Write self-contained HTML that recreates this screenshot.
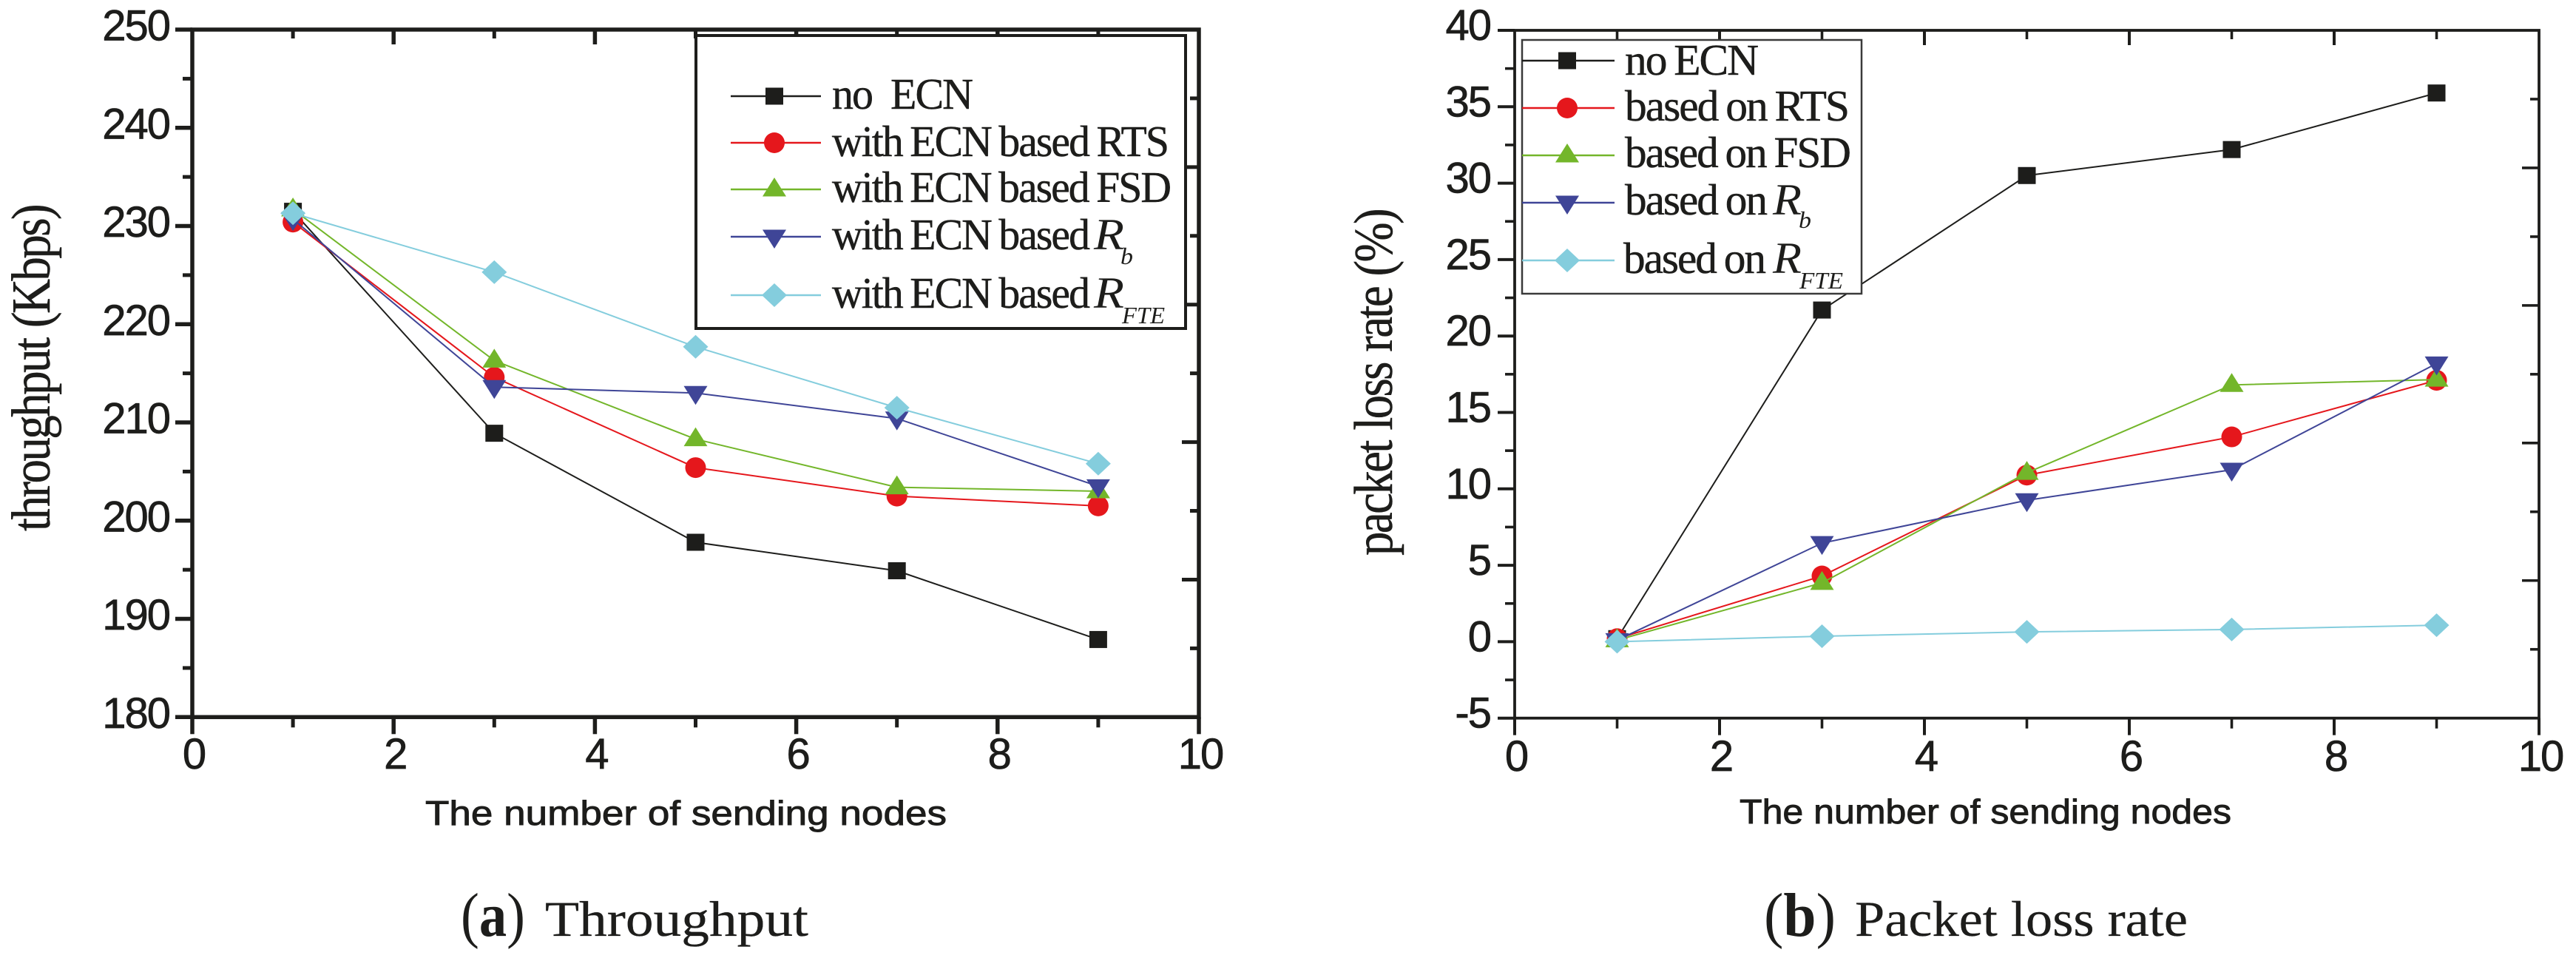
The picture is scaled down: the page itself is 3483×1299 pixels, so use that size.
<!DOCTYPE html>
<html lang="en">
<head>
<meta charset="utf-8">
<title>Throughput and packet loss rate charts</title>
<style>
html,body{margin:0;padding:0;background:#fff;}
body{width:3483px;height:1299px;overflow:hidden;}
svg{display:block;}
text{fill:#1d1d1b;}
.sans{font-family:"Liberation Sans",Arial,sans-serif;}
.serif{font-family:"Liberation Serif","Times New Roman",serif;}
.tick{font-size:58px;letter-spacing:-2px;stroke:#1d1d1b;stroke-width:.7px;}
.xt{font-size:46px;stroke:#1d1d1b;stroke-width:.9px;}
.yt{font-size:74px;letter-spacing:-3px;word-spacing:2px;stroke:#1d1d1b;stroke-width:.5px;}
.lg{font-size:59px;letter-spacing:-2px;word-spacing:-2px;white-space:pre;stroke:#1d1d1b;stroke-width:.5px;}
.lgp{word-spacing:0;}
.lgi{font-size:60px;font-style:italic;}
.sub{font-size:32px;font-style:italic;}
.capl{font-size:84px;}
.cap{font-size:68px;stroke:#1d1d1b;stroke-width:.3px;}
</style>
</head>
<body>
<svg id="figure" xmlns="http://www.w3.org/2000/svg" width="3483" height="1299" viewBox="0 0 3483 1299">
  <rect width="3483" height="1299" fill="#fff"/>
  <g id="panel-a"></g>
  <g id="panel-b"></g>

  <text class="sans xt" x="575" y="1115" textLength="705" lengthAdjust="spacingAndGlyphs">The number of sending nodes</text>
  <text class="serif yt" transform="translate(67,718) rotate(-90)" textLength="440" lengthAdjust="spacingAndGlyphs">throughput (Kbps)</text>
  <text class="sans xt" x="2352" y="1113" textLength="665" lengthAdjust="spacingAndGlyphs">The number of sending nodes</text>
  <text class="serif yt" transform="translate(1882,751) rotate(-90)" textLength="467" lengthAdjust="spacingAndGlyphs">packet loss rate (%)</text>

  <g id="legend-a">
    <rect x="941" y="48" width="662" height="396" fill="#fff" stroke="#1d1d1b" stroke-width="4"/>
    <text class="serif lg lgp" x="1125" y="147" textLength="189" lengthAdjust="spacingAndGlyphs">no  ECN</text>
    <text class="serif lg" x="1125" y="211" textLength="454" lengthAdjust="spacingAndGlyphs">with ECN based RTS</text>
    <text class="serif lg" x="1125" y="273" textLength="457" lengthAdjust="spacingAndGlyphs">with ECN based FSD</text>
    <text class="serif lg" x="1125" y="337" textLength="347" lengthAdjust="spacingAndGlyphs">with ECN based</text>
    <text class="serif lgi" x="1479" y="337" textLength="41" lengthAdjust="spacingAndGlyphs">R</text>
    <text class="serif sub" x="1515" y="357" textLength="17" lengthAdjust="spacingAndGlyphs">b</text>
    <text class="serif lg" x="1125" y="416" textLength="347" lengthAdjust="spacingAndGlyphs">with ECN based</text>
    <text class="serif lgi" x="1479" y="416" textLength="41" lengthAdjust="spacingAndGlyphs">R</text>
    <text class="serif sub" x="1517" y="437" textLength="58" lengthAdjust="spacingAndGlyphs">FTE</text>
  </g>

  <g id="legend-b">
    <rect x="2058" y="54" width="459" height="343" fill="#fff" stroke="#3a3a3a" stroke-width="2.5"/>
    <text class="serif lg" x="2197" y="101" textLength="179" lengthAdjust="spacingAndGlyphs">no ECN</text>
    <text class="serif lg" x="2197" y="163" textLength="302" lengthAdjust="spacingAndGlyphs">based on RTS</text>
    <text class="serif lg" x="2197" y="226" textLength="304" lengthAdjust="spacingAndGlyphs">based on FSD</text>
    <text class="serif lg" x="2197" y="290" textLength="191" lengthAdjust="spacingAndGlyphs">based on</text>
    <text class="serif lgi" x="2397" y="290" textLength="39" lengthAdjust="spacingAndGlyphs">R</text>
    <text class="serif sub" x="2432" y="308" textLength="17" lengthAdjust="spacingAndGlyphs">b</text>
    <text class="serif lg" x="2195" y="369" textLength="191" lengthAdjust="spacingAndGlyphs">based on</text>
    <text class="serif lgi" x="2397" y="369" textLength="39" lengthAdjust="spacingAndGlyphs">R</text>
    <text class="serif sub" x="2433" y="390" textLength="59" lengthAdjust="spacingAndGlyphs">FTE</text>
  </g>

  <text class="serif capl" x="623" y="1265" textLength="87" lengthAdjust="spacingAndGlyphs">(<tspan font-weight="bold">a</tspan>)</text>
  <text class="serif cap" x="737" y="1265" textLength="356" lengthAdjust="spacingAndGlyphs">Throughput</text>
  <text class="serif capl" x="2385" y="1265" textLength="97" lengthAdjust="spacingAndGlyphs">(<tspan font-weight="bold">b</tspan>)</text>
  <text class="serif cap" x="2508" y="1265" textLength="450" lengthAdjust="spacingAndGlyphs">Packet loss rate</text>
</svg>
<script>
// ---- shared categories ----
var sendingNodes = [1, 3, 5, 7, 9];
var xTickLabels = [0, 2, 4, 6, 8, 10];
var xMinorTicks = [1, 3, 5, 7, 9];

// ---- chart (a): throughput, Kbps ----
var throughputTickLabels = [180, 190, 200, 210, 220, 230, 240, 250];
var throughputMinorTicks = [185, 195, 205, 215, 225, 235, 245];
var throughputNoEcn = [231.5, 208.9, 197.8, 194.9, 187.9];
var throughputRts = [230.4, 214.6, 205.4, 202.5, 201.5];
var throughputFsd = [231.7, 216.3, 208.3, 203.4, 203.0];
var throughputRb = [230.7, 213.6, 213.0, 210.4, 203.5];
var throughputRfte = [231.3, 225.3, 217.7, 211.5, 205.8];

// ---- chart (b): packet loss rate, % ----
var lossTickLabels = [-5, 0, 5, 10, 15, 20, 25, 30, 35, 40];
var lossMinorTicks = [-2.5, 2.5, 7.5, 12.5, 17.5, 22.5, 27.5, 32.5, 37.5];
var lossNoEcn = [0.2, 21.7, 30.5, 32.2, 35.9];
var lossRts = [0.2, 4.3, 10.9, 13.4, 17.1];
var lossFsd = [0.1, 3.85, 11.05, 16.8, 17.15];
var lossRb = [0.1, 6.45, 9.25, 11.25, 18.2];
var lossRfte = [0.0, 0.36, 0.64, 0.8, 1.08];

var SVGNS = 'http://www.w3.org/2000/svg';
var INK = '#1d1d1b';
var seriesLook = [
  {key: 'no-ecn', color: '#1d1d1b', shape: 'square'},
  {key: 'rts', color: '#e5171c', shape: 'circle'},
  {key: 'fsd', color: '#73b62a', shape: 'up'},
  {key: 'rb', color: '#3f4597', shape: 'down'},
  {key: 'rfte', color: '#84cddd', shape: 'diamond'}
];

function mk(parent, tag, attrs) {
  var el = document.createElementNS(SVGNS, tag);
  for (var k in attrs) { el.setAttribute(k, attrs[k]); }
  parent.appendChild(el);
  return el;
}

function markerShape(parent, shape, x, y, color) {
  var el;
  if (shape === 'square') {
    el = mk(parent, 'rect', {x: x - 12, y: y - 11.5, width: 24, height: 23, fill: color});
  } else if (shape === 'circle') {
    el = mk(parent, 'ellipse', {cx: x, cy: y, rx: 14, ry: 14, fill: color});
  } else if (shape === 'up') {
    el = mk(parent, 'polygon', {points: (x - 16) + ',' + (y + 9.5) + ' ' + x + ',' + (y - 16) + ' ' + (x + 16) + ',' + (y + 9.5), fill: color});
  } else if (shape === 'down') {
    el = mk(parent, 'polygon', {points: (x - 16) + ',' + (y - 9.5) + ' ' + x + ',' + (y + 16) + ' ' + (x + 16) + ',' + (y - 9.5), fill: color});
  } else {
    el = mk(parent, 'polygon', {points: (x - 17) + ',' + y + ' ' + x + ',' + (y - 16) + ' ' + (x + 17) + ',' + y + ' ' + x + ',' + (y + 16), fill: color});
  }
  return el;
}

function drawAxes(g, p) {
  var xMajor = xTickLabels, xMinor = xMinorTicks;
  var frame = mk(g, 'rect', {x: p.left, y: p.top, width: p.right - p.left, height: p.bottom - p.top, fill: 'none', stroke: INK, 'stroke-width': p.axisWidth});
  
  

  xMajor.forEach(function (v) {
    var x = p.x(v);
    var t = mk(g, 'line', {x1: x, x2: x, y1: p.bottom, y2: p.bottom + 23, stroke: INK, 'stroke-width': p.majorWidth});
    
    
    if (v > 0 && v < 10) {
      var tt = mk(g, 'line', {x1: x, x2: x, y1: p.top, y2: p.top + 20, stroke: INK, 'stroke-width': p.majorWidth});
      
      
    }
    var lab = mk(g, 'text', {x: x + 2, y: p.xLabelY, 'text-anchor': 'middle', 'class': 'sans tick'});
    
    
    lab.textContent = v;
  });
  xMinor.forEach(function (v) {
    var x = p.x(v);
    var t = mk(g, 'line', {x1: x, x2: x, y1: p.bottom, y2: p.bottom + 14, stroke: INK, 'stroke-width': p.minorWidth});
    
    
    var tt = mk(g, 'line', {x1: x, x2: x, y1: p.top, y2: p.top + 12, stroke: INK, 'stroke-width': p.minorWidth});
    
    
  });
  p.yMajor.forEach(function (v) {
    var y = p.y(v);
    var t = mk(g, 'line', {x1: p.left - 23, x2: p.left, y1: y, y2: y, stroke: INK, 'stroke-width': p.majorWidth});
    
    
    var lab = mk(g, 'text', {x: p.left - p.yLabelGap, y: y + p.yLabelDrop, 'text-anchor': 'end', 'class': 'sans tick'});
    
    
    lab.textContent = v;
  });
  p.yMinor.forEach(function (v) {
    var y = p.y(v);
    var t = mk(g, 'line', {x1: p.left - 13, x2: p.left, y1: y, y2: y, stroke: INK, 'stroke-width': p.minorWidth});
    
    
  });
  // right-hand axis carries its own ten divisions, alternating long and short
  for (var i = 1; i < 10; i++) {
    var ry = p.top + (p.bottom - p.top) * i / 10;
    var len = i % 2 === 0 ? 23 : 12;
    var r = mk(g, 'line', {x1: p.right - len, x2: p.right, y1: ry, y2: ry, stroke: INK, 'stroke-width': p.minorWidth});
    
    
  }
}

function drawSeries(g, p, seriesValues) {
  seriesValues.forEach(function (vals, si) {
    var look = seriesLook[si];
    var sg = mk(g, 'g', {});
    
    
    var pts = vals.map(function (v, i) { return p.x(sendingNodes[i]) + ',' + p.y(v); }).join(' ');
    var line = mk(sg, 'polyline', {points: pts, fill: 'none', stroke: look.color, 'stroke-width': 2});
    
    
    vals.forEach(function (v, i) {
      var m = markerShape(sg, look.shape, p.x(sendingNodes[i]), p.y(v), look.color);
      
      
    });
  });
}

function drawLegendKeys(g, left, right, keyX, rowYs) {
  rowYs.forEach(function (y, i) {
    var look = seriesLook[i];
    var l = mk(g, 'line', {x1: left, x2: right, y1: y, y2: y, stroke: look.color, 'stroke-width': 2.5});
    
    
    var m = markerShape(g, look.shape, keyX, y, look.color);
    
    
  });
}

var panelA = {
  left: 260, right: 1621, top: 40, bottom: 969.3,
  axisWidth: 5.5, majorWidth: 5.5, minorWidth: 5,
  xLabelY: 1039, yLabelDrop: 14.5, yLabelGap: 31,
  yMajor: throughputTickLabels, yMinor: throughputMinorTicks,
  x: function (v) { return 260 + v * 136.1; },
  y: function (v) { return 969.3 - (v - 180) * (929.3 / 70); }
};
var panelB = {
  left: 2048, right: 3433, top: 41, bottom: 970.7,
  axisWidth: 3.8, majorWidth: 4, minorWidth: 3.6,
  xLabelY: 1042, yLabelDrop: 13, yLabelGap: 33,
  yMajor: lossTickLabels, yMinor: lossMinorTicks,
  x: function (v) { return 2048 + v * 138.5; },
  y: function (v) { return 970.7 - (v + 5) * (929.7 / 45); }
};

var gA = document.getElementById('panel-a');
var gB = document.getElementById('panel-b');
drawAxes(gA, panelA);
drawSeries(gA, panelA, [throughputNoEcn, throughputRts, throughputFsd, throughputRb, throughputRfte]);
drawAxes(gB, panelB);
drawSeries(gB, panelB, [lossNoEcn, lossRts, lossFsd, lossRb, lossRfte]);

drawLegendKeys(document.getElementById('legend-a'), 988, 1110, 1047, [130, 193, 256, 320, 399]);
drawLegendKeys(document.getElementById('legend-b'), 2058, 2183, 2119, [82, 146, 210, 274, 352]);
</script>
</body>
</html>
